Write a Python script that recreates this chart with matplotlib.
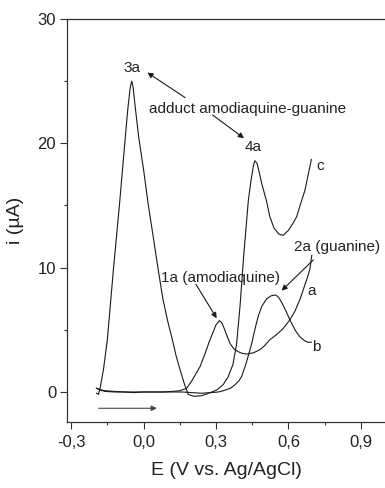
import matplotlib
matplotlib.use("Agg")
import matplotlib.pyplot as plt
from matplotlib.ticker import FuncFormatter, FixedLocator

plt.rcParams['font.family'] = ['Liberation Sans', 'DejaVu Sans']

# curve a: amodiaquine (peak 1a)
a_x = [-0.195, -0.18, -0.16, -0.12, -0.08, -0.04, 0.0, 0.04, 0.08, 0.12, 0.15, 0.179, 0.20, 0.234,
       0.255, 0.275, 0.29, 0.30, 0.314, 0.325, 0.338, 0.358, 0.375, 0.392, 0.41, 0.427, 0.455,
       0.482, 0.50, 0.523, 0.55, 0.578, 0.606, 0.627, 0.647, 0.668, 0.68, 0.689, 0.697]
a_y = [0.3, 0.15, 0.05, 0.0, 0.0, -0.05, 0.0, 0.0, 0.0, 0.05, 0.1, 0.3, 0.9, 2.04,
       3.1, 4.2, 4.9, 5.4, 5.74, 5.55, 4.9, 3.9, 3.45, 3.24, 3.1, 3.05, 3.15,
       3.4, 3.7, 4.2, 4.6, 5.1, 5.8, 6.5, 7.4, 8.6, 9.3, 9.9, 11.0]

# curve b: guanine (peak 2a)
b_x = [-0.195, -0.18, -0.16, -0.12, -0.08, -0.04, 0.0, 0.04, 0.08, 0.12, 0.16, 0.20, 0.24,
       0.28, 0.31, 0.33, 0.36, 0.38, 0.395, 0.406, 0.425, 0.448, 0.462, 0.475, 0.49, 0.51,
       0.53, 0.548, 0.56, 0.575, 0.59, 0.606, 0.63, 0.647, 0.665, 0.68, 0.695]
b_y = [0.3, 0.2, 0.1, 0.05, 0.0, 0.0, 0.0, 0.0, 0.0, 0.0, 0.0, -0.05, -0.1,
       -0.05, 0.0, 0.1, 0.3, 0.6, 0.9, 1.23, 2.3, 3.9, 5.1, 6.1, 6.9, 7.5,
       7.75, 7.8, 7.6, 7.1, 6.5, 5.8, 4.9, 4.45, 4.15, 4.0, 4.0]

# curve c: adduct amodiaquine-guanine (peaks 3a, 4a)
c_x = [-0.195, -0.187, -0.18, -0.166, -0.15, -0.125, -0.10, -0.08, -0.065, -0.055,
       -0.049, -0.043, -0.035, -0.02, 0.0, 0.02, 0.04, 0.061, 0.08, 0.10, 0.117, 0.135,
       0.151, 0.17, 0.185, 0.21, 0.24, 0.27, 0.303, 0.33, 0.35, 0.37, 0.385, 0.40, 0.415,
       0.434, 0.445, 0.455, 0.461, 0.47, 0.48, 0.489, 0.51, 0.523, 0.54, 0.56, 0.578, 0.60,
       0.62, 0.634, 0.65, 0.668, 0.68, 0.695]
c_y = [-0.1, -0.2, 0.3, 1.8, 4.2, 9.8, 15.0, 19.5, 22.8, 24.5,
       25.0, 24.5, 23.0, 20.5, 17.9, 15.0, 12.5, 9.8, 7.5, 5.7, 4.4, 2.9,
       1.8, 0.6, -0.2, -0.35, -0.3, -0.1, 0.16, 0.6, 1.2, 2.2, 3.8, 7.0, 11.0,
       15.4, 17.0, 18.2, 18.6, 18.4, 17.6, 16.8, 15.3, 14.1, 13.2, 12.7, 12.6, 13.0,
       13.6, 14.1, 15.1, 16.2, 17.3, 18.7]

x_ticks = [-0.3, 0.0, 0.3, 0.6, 0.9]
y_ticks = [0, 10, 20, 30]

fig = plt.figure(figsize=(3.85, 4.88), dpi=100)
ax = fig.add_axes([67/385, 1-421.7/488, 1-67/385, (421.7-19)/488])

lc = '#1a1a1a'
for xs, ys in ((a_x, a_y), (b_x, b_y), (c_x, c_y)):
    ax.plot(xs, ys, color=lc, lw=0.8)

ax.set_xlim(-0.317, 1.0)
ax.set_ylim(-2.39, 30)
ax.xaxis.set_major_locator(FixedLocator(x_ticks))
ax.xaxis.set_minor_locator(FixedLocator([-0.15, 0.15, 0.45, 0.75]))
ax.yaxis.set_major_locator(FixedLocator(y_ticks))
ax.yaxis.set_minor_locator(FixedLocator([5, 15, 25]))
ax.xaxis.set_major_formatter(FuncFormatter(lambda v, p: f"{v:.1f}".replace('.', ',')))
ax.yaxis.set_major_formatter(FuncFormatter(lambda v, p: f"{v:.0f}"))

ax.spines['right'].set_visible(False)
for s in ('left', 'bottom', 'top'):
    ax.spines[s].set_linewidth(0.9)
    ax.spines[s].set_color('#333333')
ax.tick_params(which='major', direction='out', length=4.8, width=0.8, labelsize=12,
               color='#333333', labelcolor='#222222', pad=3)
ax.tick_params(axis='x', which='major', pad=4.5)
ax.tick_params(which='minor', direction='out', length=2.4, width=0.8, color='#333333')
ax.tick_params(top=False, right=False)

ax.set_xlabel('E (V vs. Ag/AgCl)', fontsize=14, color='#222222', labelpad=9)
ax.set_ylabel('i (µA)', fontsize=14, color='#222222', labelpad=10)

tk = dict(fontsize=11, color='#222222', ha='center', va='center')
ax.text(-0.046, 26.07, '3a', **tk)
ax.text(0.432, 22.8, 'adduct amodiaquine-guanine', **tk)
ax.text(0.454, 19.7, '4a', **tk)
ax.text(0.73, 18.2, 'c', **tk)
ax.text(0.318, 9.15, '1a (amodiaquine)', **tk)
ax.text(0.80, 11.7, '2a (guanine)', **tk)
ax.text(0.696, 8.15, 'a', **tk)
ax.text(0.717, 3.6, 'b', **tk)

ap = dict(arrowstyle='-|>', mutation_scale=8, lw=0.8, color='#1a1a1a', shrinkA=0, shrinkB=0)
ax.annotate('', xy=(0.016, 25.69), xytext=(0.172, 23.68), arrowprops=ap)
ax.annotate('', xy=(0.416, 20.41), xytext=(0.286, 22.28), arrowprops=ap)
ax.annotate('', xy=(0.303, 5.93), xytext=(0.217, 8.66), arrowprops=ap)
ax.annotate('', xy=(0.572, 8.15), xytext=(0.703, 10.62), arrowprops=ap)
ap2 = dict(ap, color='#444444')
ax.annotate('', xy=(0.055, -1.31), xytext=(-0.186, -1.31), arrowprops=ap2)

fig.savefig('out.png', dpi=100)
